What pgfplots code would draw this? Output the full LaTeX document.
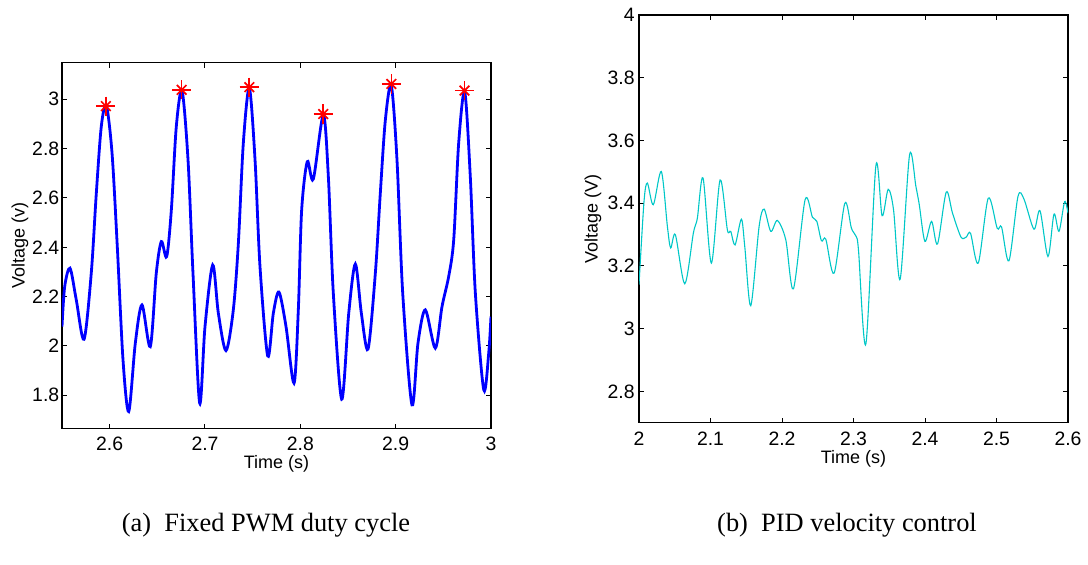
\documentclass[border=0pt]{standalone}
\usepackage{fontspec}
\setmainfont{Liberation Sans}
\newfontfamily\capfont{Liberation Serif}
\usepackage{pgfplots}
\pgfplotsset{compat=1.18}
\definecolor{mblue}{rgb}{0,0,1}
\definecolor{mcyan}{rgb}{0,0.78,0.78}
\pgfplotsset{
  mat/.style={
    scale only axis,
    anchor=south west,
    axis line style={line width=0.7pt, black},
    every tick/.style={line width=0.5pt, black},
    major tick length=2.4pt,
    tick align=inside,
    xtick pos=both, ytick pos=both,
    /pgf/number format/assume math mode=true,
    ticklabel style={font=\fontsize{9.7}{11}\selectfont},
    xticklabel style={inner sep=0pt, yshift=-4.2pt},
    label style={font=\fontsize{9}{11}\selectfont},
    xlabel={Time (s)},
    xlabel style={inner sep=0pt, at={(axis description cs:0.5,0)}, anchor=north, yshift=-13.6pt},
    clip=true,
  }
}
\begin{document}
\begin{tikzpicture}
\path[use as bounding box] (0pt,0pt) rectangle (544pt,282pt);
% ---------------- left axis ----------------
\begin{axis}[mat,
  at={(31pt,67.85pt)},
  width=214.5pt, height=182.8pt,
  xmin=2.55, xmax=3, ymin=1.666, ymax=3.148,
  xtick={2.6,2.7,2.8,2.9,3},
  xticklabels={2.6,2.7,2.8,2.9,3},
  ytick={1.8,2,2.2,2.4,2.6,2.8,3},
  yticklabels={1.8,2,2.2,2.4,2.6,2.8,3},
  yticklabel style={inner sep=0pt, xshift=-1.2pt},
  ylabel={Voltage (v)},
  ylabel style={inner sep=0pt, at={(axis description cs:0,0.5)}, anchor=center, yshift=21pt},
]
\addplot[mblue, line width=1.4pt, smooth, tension=0.5] table {
2.5500 2.078
2.5528 2.240
2.5584 2.315
2.5650 2.186
2.5731 2.027
2.5807 2.295
2.5860 2.619
2.5912 2.889
2.5965 2.975
2.6025 2.781
2.6080 2.403
2.6140 1.943
2.6200 1.734
2.6269 2.011
2.6339 2.166
2.6426 1.997
2.6489 2.295
2.6542 2.423
2.6598 2.362
2.6647 2.551
2.6699 2.889
2.6759 3.035
2.6822 2.754
2.6874 2.295
2.6944 1.768
2.7000 2.078
2.7081 2.328
2.7140 2.133
2.7220 1.981
2.7297 2.146
2.7350 2.416
2.7402 2.822
2.7465 3.045
2.7525 2.754
2.7577 2.321
2.7658 1.959
2.7717 2.133
2.7776 2.218
2.7850 2.078
2.7934 1.849
2.7979 2.146
2.8014 2.551
2.8073 2.747
2.8136 2.676
2.8241 2.936
2.8294 2.686
2.8346 2.214
2.8434 1.784
2.8508 2.133
2.8577 2.332
2.8640 2.133
2.8710 1.987
2.8787 2.295
2.8839 2.619
2.8892 2.916
2.8954 3.055
2.9014 2.754
2.9074 2.214
2.9171 1.761
2.9234 2.011
2.9311 2.146
2.9416 1.991
2.9486 2.159
2.9556 2.281
2.9609 2.430
2.9661 2.822
2.9724 3.030
2.9783 2.686
2.9836 2.214
2.9924 1.822
2.9976 1.970
3.0000 2.119
};
\addplot[red, only marks, mark=+, mark size=4.8pt, line width=0.85pt] table {
2.5960 2.972
2.6755 3.038
2.7465 3.049
2.8240 2.940
2.8955 3.062
2.9722 3.035
};
\addplot[red, only marks, mark=x, mark size=3.4pt, line width=0.85pt] table {
2.5960 2.972
2.6755 3.038
2.7465 3.049
2.8240 2.940
2.8955 3.062
2.9722 3.035
};
\end{axis}
% ---------------- right axis ----------------
\begin{axis}[mat,
  at={(319.5pt,70.65pt)},
  width=214.5pt, height=203.85pt,
  xmin=2, xmax=2.6, ymin=2.7, ymax=4,
  xtick={2,2.1,2.2,2.3,2.4,2.5,2.6},
  xticklabels={2,2.1,2.2,2.3,2.4,2.5,2.6},
  ytick={2.8,3,3.2,3.4,3.6,3.8,4},
  yticklabels={2.8,3,3.2,3.4,3.6,3.8,4},
  yticklabel style={inner sep=0pt, xshift=-2pt},
  ylabel={Voltage (V)},
  ylabel style={inner sep=0pt, at={(axis description cs:0,0.5)}, anchor=center, yshift=23pt},
]
\addplot[mcyan, line width=0.55pt, smooth, tension=0.5] table {
2.0000 3.140
2.0070 3.405
2.0117 3.464
2.0200 3.395
2.0312 3.501
2.0397 3.326
2.0443 3.257
2.0509 3.299
2.0640 3.143
2.0760 3.304
2.0816 3.352
2.0896 3.480
2.1012 3.209
2.1134 3.474
2.1236 3.315
2.1283 3.310
2.1344 3.267
2.1432 3.349
2.1480 3.260
2.1563 3.073
2.1680 3.326
2.1750 3.381
2.1843 3.310
2.1936 3.345
2.2053 3.283
2.2160 3.127
2.2323 3.411
2.2426 3.355
2.2487 3.342
2.2552 3.280
2.2613 3.285
2.2729 3.177
2.2879 3.400
2.2971 3.320
2.3037 3.294
2.3070 3.250
2.3173 2.951
2.3313 3.519
2.3400 3.360
2.3485 3.444
2.3560 3.379
2.3653 3.158
2.3784 3.554
2.3873 3.453
2.3920 3.395
2.3999 3.278
2.4092 3.342
2.4175 3.270
2.4297 3.435
2.4385 3.368
2.4503 3.292
2.4577 3.292
2.4637 3.304
2.4745 3.209
2.4885 3.416
2.5010 3.320
2.5071 3.324
2.5174 3.216
2.5300 3.421
2.5384 3.413
2.5524 3.317
2.5608 3.376
2.5720 3.230
2.5804 3.365
2.5874 3.310
2.5953 3.405
2.6000 3.368
};
\end{axis}
% ---------------- captions ----------------
\node[font=\capfont\fontsize{13.2}{15}\selectfont, inner sep=0pt] at (133pt,19.5pt) {(a)~ Fixed PWM duty cycle};
\node[font=\capfont\fontsize{13.2}{15}\selectfont, inner sep=0pt] at (423.5pt,19.5pt) {(b)~ PID velocity control};
\end{tikzpicture}
\end{document}
